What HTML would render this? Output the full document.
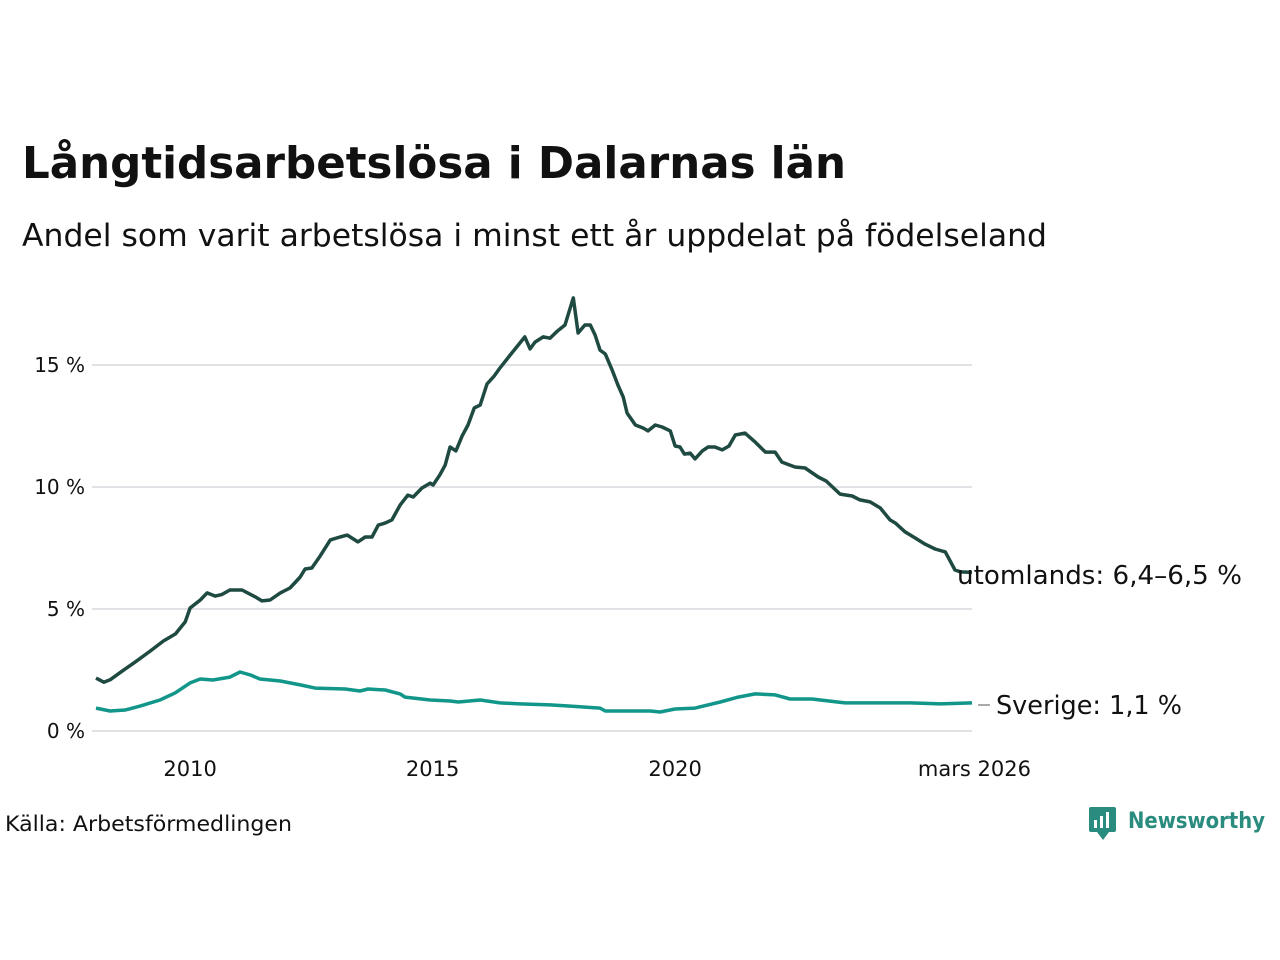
<!DOCTYPE html>
<html><head><meta charset="utf-8">
<style>
body{margin:0;background:#fff;width:1280px;height:960px;overflow:hidden;font-family:"Liberation Sans","DejaVu Sans",sans-serif;}
svg{display:block}
</style></head>
<body>
<svg id="chart" width="1280" height="960" viewBox="0 0 1280 960" xmlns="http://www.w3.org/2000/svg">
<text x="22" y="178" font-family="DejaVu Sans, sans-serif" font-weight="bold" font-size="43.5" fill="#111" textLength="824" lengthAdjust="spacingAndGlyphs">Långtidsarbetslösa i Dalarnas län</text>
<text x="22" y="246" font-family="DejaVu Sans, sans-serif" font-size="31.5" fill="#111" textLength="1025" lengthAdjust="spacingAndGlyphs">Andel som varit arbetslösa i minst ett år uppdelat på födelseland</text>
<g id="grid"></g>
<g id="series"></g>
<text x="5" y="831" font-family="DejaVu Sans, sans-serif" font-size="21" fill="#111" textLength="287" lengthAdjust="spacingAndGlyphs">Källa: Arbetsförmedlingen</text>
<g>
<rect x="1089" y="807" width="27" height="25" rx="2" fill="#2a8c7e"/>
<path d="M1097 832 L1103 840 L1109 832 Z" fill="#2a8c7e"/>
<rect x="1094" y="820" width="3" height="8" fill="#fff"/><rect x="1100" y="816" width="3" height="12" fill="#fff"/><rect x="1106" y="812" width="3" height="16" fill="#fff"/>
<text x="1128" y="828" font-family="DejaVu Sans, sans-serif" font-weight="bold" font-size="22" fill="#2a8c7e" textLength="137" lengthAdjust="spacingAndGlyphs">Newsworthy</text>
</g>
</svg>
<script>
const yTicks=[0,5,10,15];
const yTickLabels=["0 %","5 %","10 %","15 %"];
const xTicks=[2010,2015,2020,2026.17];
const xTickLabels=["2010","2015","2020","mars 2026"];
const utDates=[2008.06,2008.22,2008.35,2008.56,2008.87,2009.18,2009.45,2009.7,2009.9,2010.0,2010.21,2010.35,2010.52,2010.66,2010.82,2011.07,2011.34,2011.48,2011.65,2011.86,2012.06,2012.27,2012.37,2012.51,2012.68,2012.89,2013.09,2013.24,2013.46,2013.61,2013.75,2013.88,2014.02,2014.16,2014.33,2014.49,2014.6,2014.78,2014.95,2015.01,2015.15,2015.26,2015.36,2015.48,2015.61,2015.73,2015.86,2015.98,2016.12,2016.27,2016.39,2016.6,2016.8,2016.9,2017.01,2017.11,2017.28,2017.42,2017.57,2017.73,2017.9,2018.0,2018.14,2018.25,2018.35,2018.45,2018.56,2018.7,2018.82,2018.93,2019.01,2019.18,2019.34,2019.44,2019.59,2019.73,2019.9,2020.0,2020.1,2020.19,2020.31,2020.41,2020.56,2020.68,2020.82,2020.97,2021.11,2021.24,2021.44,2021.65,2021.86,2022.06,2022.2,2022.47,2022.68,2022.95,2023.11,2023.4,2023.65,2023.81,2024.02,2024.23,2024.43,2024.54,2024.74,2024.95,2025.15,2025.36,2025.57,2025.77,2025.88,2026.12];
const utVals=[2.17,2.0,2.1,2.4,2.83,3.28,3.69,3.98,4.47,5.04,5.37,5.66,5.53,5.6,5.78,5.78,5.5,5.33,5.37,5.66,5.86,6.31,6.64,6.68,7.17,7.83,7.95,8.03,7.75,7.95,7.95,8.44,8.52,8.65,9.26,9.67,9.59,9.96,10.16,10.08,10.5,10.9,11.64,11.48,12.1,12.54,13.24,13.36,14.22,14.55,14.88,15.41,15.9,16.15,15.66,15.94,16.15,16.1,16.39,16.64,17.75,16.31,16.64,16.64,16.23,15.61,15.45,14.8,14.18,13.69,13.03,12.54,12.42,12.3,12.54,12.46,12.3,11.68,11.64,11.35,11.39,11.15,11.48,11.64,11.64,11.52,11.68,12.13,12.21,11.84,11.43,11.43,11.02,10.82,10.78,10.41,10.25,9.71,9.63,9.47,9.39,9.14,8.65,8.52,8.16,7.91,7.66,7.46,7.34,6.6,6.52,6.5];
const seDates=[2008.06,2008.35,2008.66,2008.97,2009.38,2009.69,2010.0,2010.21,2010.47,2010.82,2011.03,2011.24,2011.44,2011.86,2012.27,2012.58,2013.2,2013.5,2013.67,2014.02,2014.33,2014.43,2014.95,2015.36,2015.53,2015.98,2016.39,2016.8,2017.42,2017.84,2018.45,2018.56,2019.49,2019.69,2020.0,2020.41,2020.93,2021.3,2021.65,2022.06,2022.37,2022.82,2023.5,2024.12,2024.85,2025.47,2026.12];
const seVals=[0.94,0.82,0.86,1.02,1.27,1.56,1.97,2.13,2.09,2.21,2.42,2.3,2.13,2.05,1.89,1.76,1.72,1.64,1.72,1.68,1.52,1.39,1.27,1.23,1.19,1.27,1.15,1.11,1.07,1.02,0.94,0.82,0.82,0.78,0.9,0.94,1.19,1.39,1.52,1.48,1.31,1.31,1.15,1.15,1.15,1.11,1.15];
const X0=96,X1=972,D0=2008.06,D1=2026.12;
const x=d=>X0+(d-D0)/(D1-D0)*(X1-X0);
const y=v=>731-v*24.4;
const NS="http://www.w3.org/2000/svg";
const grid=document.getElementById('grid');
yTicks.forEach((t,i)=>{
 const l=document.createElementNS(NS,'line');
 
 
 l.setAttribute('x1',92);l.setAttribute('x2',972);l.setAttribute('y1',y(t));l.setAttribute('y2',y(t));
 l.setAttribute('stroke','#e2e2e6');l.setAttribute('stroke-width','2');grid.appendChild(l);
 const tx=document.createElementNS(NS,'text');
 
 
 tx.setAttribute('x',85);tx.setAttribute('y',y(t)+7);tx.setAttribute('text-anchor','end');
 tx.setAttribute('font-family','DejaVu Sans, sans-serif');tx.setAttribute('font-size','20');tx.setAttribute('fill','#111');
 tx.textContent=yTickLabels[i];grid.appendChild(tx);
});
xTicks.forEach((t,i)=>{
 const tx=document.createElementNS(NS,'text');
 
 
 tx.setAttribute('x',x(t));tx.setAttribute('y',776);tx.setAttribute('text-anchor','middle');
 tx.setAttribute('font-family','DejaVu Sans, sans-serif');tx.setAttribute('font-size','21');tx.setAttribute('fill','#111');
 tx.textContent=xTickLabels[i];grid.appendChild(tx);
});
const g=document.getElementById('series');
function line(ds,vs,col,name){
 const p=document.createElementNS(NS,'path');
 
 
 p.setAttribute('d',ds.map((d,i)=>(i?'L':'M')+x(d).toFixed(1)+' '+y(vs[i]).toFixed(1)).join(' '));
 p.setAttribute('fill','none');p.setAttribute('stroke',col);p.setAttribute('stroke-width','3.5');p.setAttribute('stroke-linejoin','round');
 g.appendChild(p);
}
line(seDates,seVals,'#12968a','sverige-line');
line(utDates,utVals,'#1e4a42','utomlands-line');
const lab1=document.createElementNS(NS,'text');


lab1.setAttribute('x',957);lab1.setAttribute('y',584);
lab1.setAttribute('font-family','DejaVu Sans, sans-serif');lab1.setAttribute('font-size','25.5');lab1.setAttribute('fill','#111');
lab1.setAttribute('textLength','285');lab1.setAttribute('lengthAdjust','spacingAndGlyphs');
lab1.textContent='utomlands: 6,4–6,5 %';g.appendChild(lab1);
const tick=document.createElementNS(NS,'line');


tick.setAttribute('x1',978);tick.setAttribute('x2',990);tick.setAttribute('y1',705);tick.setAttribute('y2',705);
tick.setAttribute('stroke','#555');tick.setAttribute('stroke-width','1');g.appendChild(tick);
const lab2=document.createElementNS(NS,'text');


lab2.setAttribute('x',996);lab2.setAttribute('y',714);
lab2.setAttribute('font-family','DejaVu Sans, sans-serif');lab2.setAttribute('font-size','25.5');lab2.setAttribute('fill','#111');
lab2.setAttribute('textLength','186');lab2.setAttribute('lengthAdjust','spacingAndGlyphs');
lab2.textContent='Sverige: 1,1 %';g.appendChild(lab2);
</script>
</body></html>
